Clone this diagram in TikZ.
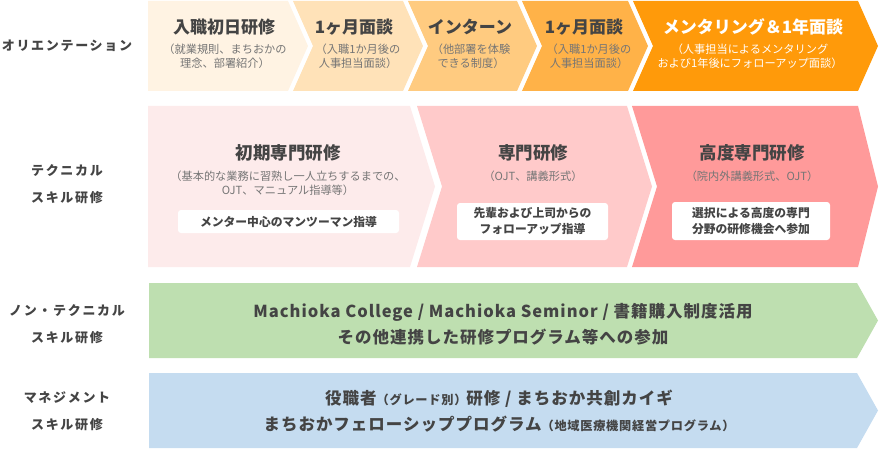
\documentclass[tikz,border=0pt]{standalone}
\usepackage{fontspec}
\setmainfont{Noto Sans CJK JP}
\definecolor{tx}{HTML}{444444}
\definecolor{sb}{HTML}{757575}
\definecolor{oA}{HTML}{FFF3E3}
\definecolor{oB}{HTML}{FFE2B8}
\definecolor{oC}{HTML}{FFCB80}
\definecolor{oD}{HTML}{FFB248}
\definecolor{oE}{HTML}{FF9A0A}
\definecolor{pA}{HTML}{FDEBEB}
\definecolor{pB}{HTML}{FFCACA}
\definecolor{pC}{HTML}{FF9A9A}
\definecolor{gA}{HTML}{BEDFB0}
\definecolor{bA}{HTML}{C5DCF0}
\begin{document}
\begin{tikzpicture}[x=1pt,y=-1pt,
  lbl/.style={font=\bfseries\fontsize{13}{27}\selectfont\addfontfeature{LetterSpace=13}, text=tx, align=center, inner sep=0},
  ttl/.style={font=\bfseries\fontsize{17}{20}\selectfont, text=tx, inner sep=0},
  sub/.style={font=\fontsize{11.2}{14.5}\selectfont, text=sb, align=center, inner sep=0},
  boxtxt/.style={font=\bfseries\fontsize{11.8}{16}\selectfont, text=tx, align=center, inner sep=0},
  wbox/.style={fill=white, rounded corners=3pt},
  big/.style={font=\bfseries\fontsize{16.5}{26}\selectfont\addfontfeature{LetterSpace=6}, text=tx, align=center, inner sep=0}
]
\useasboundingbox (0,0) rectangle (880,449);
% top row
\fill[oA] (148,1)--(288,1)--(308,46)--(288,91)--(148,91)--cycle;
\fill[oB] (293,1)--(403,1)--(423,46)--(403,91)--(293,91)--(313,46)--cycle;
\fill[oC] (408,1)--(517,1)--(537,46)--(517,91)--(408,91)--(428,46)--cycle;
\fill[oD] (522,1)--(628,1)--(648,46)--(628,91)--(522,91)--(542,46)--cycle;
\fill[oE] (633,1)--(858,1)--(878,46)--(858,91)--(633,91)--(653,46)--cycle;
% second row
\fill[pA] (148,106)--(410,106)--(435,186.5)--(410,267)--(148,267)--cycle;
\fill[pB] (417,106)--(627,106)--(652,186.5)--(627,267)--(417,267)--(442,186.5)--cycle;
\fill[pC] (632,106)--(858,106)--(878,186.5)--(858,267)--(632,267)--(657,186.5)--cycle;
% third and fourth rows
\fill[gA] (149,283)--(857,283)--(878,320.5)--(857,358)--(149,358)--cycle;
\fill[bA] (149,373)--(857,373)--(878,410.5)--(857,448)--(149,448)--cycle;
% white boxes
\fill[wbox] (178,210) rectangle (399,233);
\fill[wbox] (457,203) rectangle (608,240);
\fill[wbox] (672,202) rectangle (830,240);

% left labels
\node[lbl] (l1) at (67,46) {オリエンテーション};
\node[lbl] (l2) at (67,184) {テクニカル\\スキル研修};
\node[lbl] (l3) at (67,324.5) {ノン・テクニカル\\スキル研修};
\node[lbl] (l4) at (67,411) {マネジメント\\スキル研修};

% top row texts
\node[ttl] (t1) at (224,27) {入職初日研修};
\node[sub] (s1) at (225,56) {（就業規則、まちおかの\\理念、部署紹介）};
\node[ttl] (t2) at (354,27) {1ヶ月面談};
\node[sub] (s2) at (358,56) {（入職1か月後の\\人事担当面談）};
\node[ttl] (t3) at (470,27) {インターン};
\node[sub] (s3) at (471,56) {（他部署を体験\\できる制度）};
\node[ttl] (t4) at (584,27) {1ヶ月面談};
\node[sub] (s4) at (589,56) {（入職1か月後の\\人事担当面談）};
\node[ttl,text=white] (t5) at (753,27) {メンタリング＆1年面談};
\node[sub,text=white] (s5) at (750,56) {（人事担当によるメンタリング\\および1年後にフォローアップ面談）};

% second row texts
\node[ttl,font=\bfseries\fontsize{17.5}{20}\selectfont] (u1) at (288,153) {初期専門研修};
\node[sub] (v1) at (288,183) {（基本的な業務に習熟し一人立ちするまでの、\\OJT、マニュアル指導等）};
\node[boxtxt] (w1) at (288.5,221.5) {メンター中心のマンツーマン指導};
\node[ttl,font=\bfseries\fontsize{17.5}{20}\selectfont] (u2) at (533,153) {専門研修};
\node[sub] (v2) at (533,176) {（OJT、講義形式）};
\node[boxtxt] (w2) at (532.5,221.5) {先輩および上司からの\\フォローアップ指導};
\node[ttl,font=\bfseries\fontsize{17.5}{20}\selectfont] (u3) at (752,153) {高度専門研修};
\node[sub] (v3) at (752,176) {（院内外講義形式、OJT）};
\node[boxtxt] (w3) at (751,221) {選択による高度の専門\\分野の研修機会へ参加};

% third row
\node[big] (m1) at (503,324) {Machioka College / Machioka Seminor / 書籍購入制度活用\\その他連携した研修プログラム等への参加};
% fourth row
\node[big] (n1) at (499,411.5) {役職者{\fontsize{12.2}{14}\selectfont（グレード別）}研修 / まちおか共創カイギ\\まちおかフェローシッププログラム{\fontsize{12.2}{14}\selectfont（地域医療機関経営プログラム）}};
\end{tikzpicture}
\end{document}
